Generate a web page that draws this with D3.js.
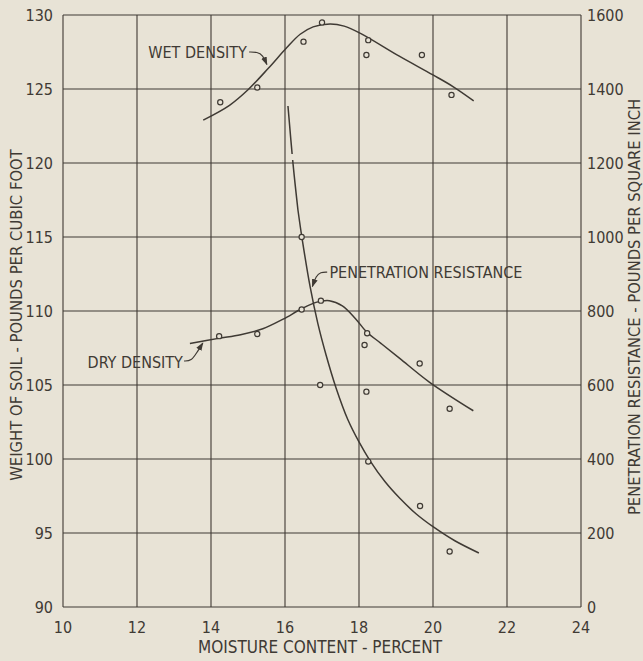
<!DOCTYPE html>
<html>
<head>
<meta charset="utf-8">
<script src="https://cdn.jsdelivr.net/npm/d3@7"></script>
<style>
    html, body { margin: 0; padding: 0; background: #e8e3d6; }
    svg { display: block; }
    text { font-family: "Liberation Sans Narrow", "DejaVu Sans Condensed", "Roboto Condensed", sans-serif; fill: #3f3a34; }
</style>
</head>
<body>
<svg id="chart" width="643" height="661"></svg>
<script>
/*global d3*/

// tick values
var xTicks = [10, 12, 14, 16, 18, 20, 22, 24];
var leftTicks = [90, 95, 100, 105, 110, 115, 120, 125, 130];
var rightTicks = [0, 200, 400, 600, 800, 1000, 1200, 1400, 1600];

// measured points (moisture %, lb per cu ft)
var wetPoints = [[14.25, 124.1], [15.25, 125.1], [16.5, 128.2], [17.0, 129.5],
    [18.25, 128.3], [18.2, 127.3], [19.7, 127.3], [20.5, 124.6]];
var dryPoints = [[14.22, 108.3], [15.25, 108.45], [16.45, 110.1], [16.97, 110.7],
    [18.22, 108.5], [18.15, 107.7], [19.64, 106.45], [20.45, 103.4]];
// measured points (moisture %, psi)
var penPoints = [[16.45, 1000], [16.95, 600], [18.2, 582], [18.25, 393],
    [19.65, 273], [20.45, 150]];

// fitted curves
var wetCurve = [[13.79, 122.9], [14.5, 123.9], [15.0, 124.95], [15.55, 126.4],
    [16.05, 127.8], [16.41, 128.7], [16.76, 129.2], [17.22, 129.4], [17.6, 129.25],
    [18.04, 128.76], [19.1, 127.2], [20.0, 125.95], [20.55, 125.15], [21.1, 124.2]];
var dryCurve = [[13.43, 107.8], [14.2, 108.15], [14.8, 108.4], [15.4, 108.8],
    [15.95, 109.45], [16.45, 110.15], [16.86, 110.6], [17.2, 110.7],
    [17.55, 110.35], [17.9, 109.5], [18.2, 108.6], [18.6, 107.8], [19.1, 106.8],
    [19.9, 105.2], [21.09, 103.26]];
var penDashed = [[16.08, 1354], [16.22, 1195], [16.35, 1073]];
var penCurve = [[16.35, 1073], [16.46, 997], [16.68, 865], [16.89, 765],
    [17.11, 681], [17.38, 592], [17.7, 506], [18.0, 446], [18.3, 395],
    [18.7, 339], [19.11, 293], [19.54, 252], [20.0, 217], [20.59, 179], [21.24, 146]];

var curveLabels = [
    {text: "WET DENSITY", anchor: "end", axis: "left", at: [14.97, 127.1],
        leader: [[15.03, 127.5], [15.25, 127.5], [15.4, 127.3], [15.51, 126.65]]},
    {text: "DRY DENSITY", anchor: "end", axis: "left", at: [13.24, 106.15],
        leader: [[13.27, 106.62], [13.47, 106.62], [13.62, 107.2], [13.78, 107.84]]},
    {text: "PENETRATION RESISTANCE", anchor: "start", axis: "right", at: [17.2, 890],
        leader: [[17.14, 905], [16.96, 905], [16.84, 895], [16.74, 866]]}
];

(function () {
    "use strict";

    var svg = d3.select("#chart"),
        margin = {top: 15, right: 62, bottom: 54, left: 63},
        width = 643 - margin.left - margin.right,
        height = 661 - margin.top - margin.bottom,
        ink = "#3f3a34",
        paper = "#e8e3d6",
        g,
        x,
        yLeft,
        yRight,
        line;

    x = d3.scaleLinear().domain([10, 24]).range([0, width]);
    yLeft = d3.scaleLinear().domain([90, 130]).range([height, 0]);
    yRight = d3.scaleLinear().domain([0, 1600]).range([height, 0]);

    svg.append("rect").attr("width", 643).attr("height", 661).attr("fill", paper);

    svg.append("defs").append("marker")
        .attr("id", "arrow")
        .attr("viewBox", "0 0 10 10")
        .attr("refX", 9).attr("refY", 5)
        .attr("markerWidth", 7).attr("markerHeight", 7)
        .attr("orient", "auto")
        .append("path")
        .attr("d", "M0,1.5 L10,5 L0,8.5 Z")
        .attr("fill", ink);

    g = svg.append("g").attr("transform", "translate(" + margin.left + "," + margin.top + ")");

    // grid
    g.selectAll(".vgrid").data(xTicks).enter().append("line")
        .attr("x1", function (d) { return x(d); })
        .attr("x2", function (d) { return x(d); })
        .attr("y1", 0).attr("y2", height)
        .attr("stroke", ink).attr("stroke-width", 1.1);

    g.selectAll(".hgrid").data(leftTicks).enter().append("line")
        .attr("x1", 0).attr("x2", width)
        .attr("y1", function (d) { return yLeft(d); })
        .attr("y2", function (d) { return yLeft(d); })
        .attr("stroke", ink).attr("stroke-width", 1.1);

    // tick labels
    g.selectAll(".xlab").data(xTicks).enter().append("text")
        .attr("x", function (d) { return x(d); })
        .attr("y", height + 26)
        .attr("text-anchor", "middle")
        .attr("font-size", 16)
        .text(function (d) { return d; });

    g.selectAll(".llab").data(leftTicks).enter().append("text")
        .attr("x", -10)
        .attr("y", function (d) { return yLeft(d); })
        .attr("dy", "0.35em")
        .attr("text-anchor", "end")
        .attr("font-size", 16)
        .text(function (d) { return d; });

    g.selectAll(".rlab").data(rightTicks).enter().append("text")
        .attr("x", width + 6)
        .attr("y", function (d) { return yRight(d); })
        .attr("dy", "0.35em")
        .attr("text-anchor", "start")
        .attr("font-size", 16)
        .text(function (d) { return d; });

    // axis titles
    g.append("text")
        .attr("x", width / 2 - 2)
        .attr("y", height + 46)
        .attr("text-anchor", "middle")
        .attr("font-size", 17)
        .text("MOISTURE CONTENT - PERCENT");

    g.append("text")
        .attr("transform", "translate(" + (-41) + "," + (height / 2 + 4) + ") rotate(-90)")
        .attr("text-anchor", "middle")
        .attr("font-size", 16.5)
        .text("WEIGHT OF SOIL - POUNDS PER CUBIC FOOT");

    g.append("text")
        .attr("transform", "translate(" + (width + 59) + "," + (height / 2 - 4) + ") rotate(-90)")
        .attr("text-anchor", "middle")
        .attr("font-size", 16.4)
        .text("PENETRATION RESISTANCE - POUNDS PER SQUARE INCH");

    // curves
    line = function (yScale) {
        return d3.line()
            .x(function (d) { return x(d[0]); })
            .y(function (d) { return yScale(d[1]); })
            .curve(d3.curveCatmullRom.alpha(0.5));
    };

    g.append("path").datum(wetCurve)
        .attr("d", line(yLeft)).attr("fill", "none")
        .attr("stroke", ink).attr("stroke-width", 1.5);
    g.append("path").datum(dryCurve)
        .attr("d", line(yLeft)).attr("fill", "none")
        .attr("stroke", ink).attr("stroke-width", 1.5);
    g.append("path").datum(penCurve)
        .attr("d", line(yRight)).attr("fill", "none")
        .attr("stroke", ink).attr("stroke-width", 1.5);
    g.append("path").datum(penDashed)
        .attr("d", line(yRight)).attr("fill", "none")
        .attr("stroke", ink).attr("stroke-width", 1.5)
        .attr("stroke-dasharray", "48,6,60");

    // points
    function dots(data, yScale) {
        g.append("g").selectAll("circle").data(data).enter().append("circle")
            .attr("cx", function (d) { return x(d[0]); })
            .attr("cy", function (d) { return yScale(d[1]); })
            .attr("r", 2.6)
            .attr("fill", paper)
            .attr("stroke", ink)
            .attr("stroke-width", 1.2);
    }
    dots(wetPoints, yLeft);
    dots(dryPoints, yLeft);
    dots(penPoints, yRight);

    // curve labels with leader arrows
    curveLabels.forEach(function (lab) {
        var yScale = lab.axis === "left" ? yLeft : yRight;
        g.append("text")
            .attr("x", x(lab.at[0]))
            .attr("y", yScale(lab.at[1]))
            .attr("text-anchor", lab.anchor)
            .attr("font-size", 16)
            .text(lab.text);
        g.append("path").datum(lab.leader)
            .attr("d", d3.line()
                .x(function (d) { return x(d[0]); })
                .y(function (d) { return yScale(d[1]); })
                .curve(d3.curveBasis))
            .attr("fill", "none")
            .attr("stroke", ink)
            .attr("stroke-width", 1.2)
            .attr("marker-end", "url(#arrow)");
    });
}());
</script>
</body>
</html>
